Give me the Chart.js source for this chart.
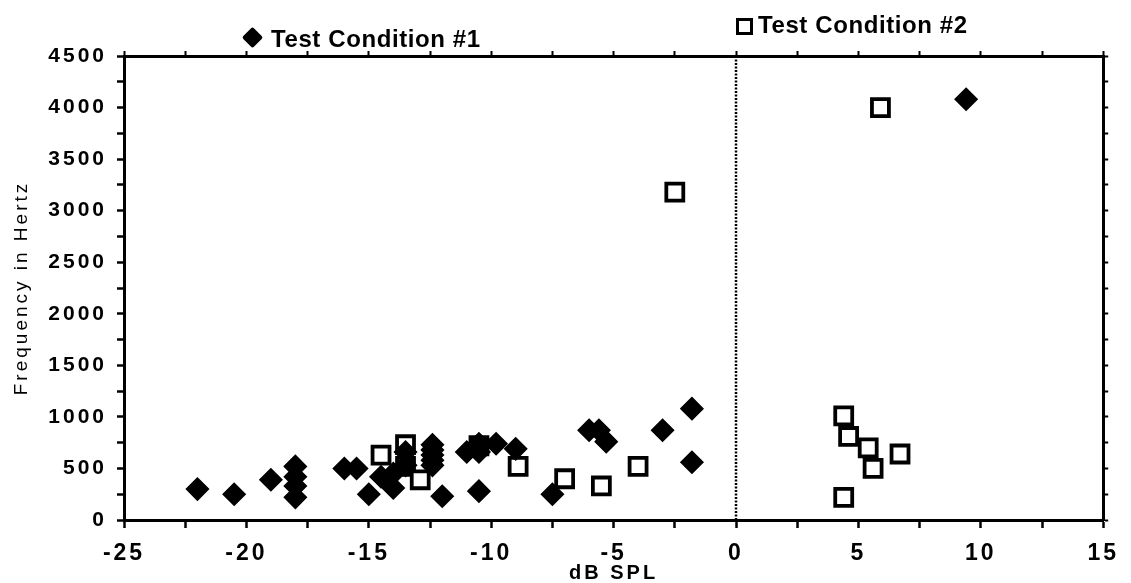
<!DOCTYPE html>
<html>
<head>
<meta charset="utf-8">
<script src="https://cdn.jsdelivr.net/npm/chart.js@4.4.0/dist/chart.umd.min.js"></script>
<style>
html,body{margin:0;padding:0;background:#fff;}
#wrap{position:relative;width:1131px;height:583px;overflow:hidden;background:#fff;}
#c{position:absolute;left:0;top:0;}
.leg{position:absolute;font-family:"Liberation Sans",Arial,sans-serif;font-weight:bold;font-size:24px;line-height:1;letter-spacing:0.6px;color:#000;white-space:nowrap;}
.dia{position:absolute;width:15px;height:15px;background:#000;transform:rotate(45deg);border-radius:2px;}
.sq{position:absolute;width:11px;height:11px;border:3.5px solid #000;background:#fff;}
</style>
</head>
<body>
<div id="wrap">
  <canvas id="c" width="1131" height="583"></canvas>
  <div class="dia" style="left:245px;top:30px;"></div>
  <div class="leg" style="left:271px;top:27px;">Test Condition #1</div>
  <div class="sq" style="left:736px;top:18px;"></div>
  <div class="leg" style="left:758px;top:13px;">Test Condition #2</div>
</div>
<script>
// ---- data (dB SPL, frequency in Hz) ----
const seriesNames = ['Test Condition #1', 'Test Condition #2'];
const cond1X = [-22, -20.5, -19, -18, -18, -18, -18, -16, -15.5, -15, -14.5, -14, -14, -13.5, -13.5,
                -12.4, -12.4, -12.4, -12.4, -12.4, -12, -11, -10.5, -10.5, -9.8, -10.5, -9, -7.5,
                -6, -5.6, -5.3, -3, -1.8, -1.8, 9.4];
const cond1Y = [300, 250, 390, 520, 420, 330, 220, 500, 500, 250, 420, 450, 310, 660, 530,
                730, 680, 630, 580, 530, 230, 660, 740, 660, 740, 280, 690, 250,
                870, 870, 760, 870, 1080, 560, 4080];
const cond2X = [-14.5, -13.5, -13.5, -12.9, -10.5, -8.9, -7, -5.5, -4, -2.5,
                4.4, 4.6, 5.4, 6.7, 5.6, 4.4, 5.9];
const cond2Y = [630, 730, 520, 390, 720, 520, 400, 330, 520, 3180,
                1010, 810, 700, 640, 500, 220, 4000];
const xMin = -25, xMax = 15, xStep = 2.5, xLabelEvery = 5;
const yMin = 0, yMax = 4500, yStep = 250, yLabelEvery = 500;
const xTitle = 'dB SPL';
const yTitle = 'Frequency in Hertz';

const FAM = '"Liberation Sans", Arial, sans-serif';
const toPts = (xs, ys) => xs.map((x, i) => ({x: x, y: ys[i]}));

const spacing = {
  id: 'spacing',
  beforeUpdate(c) { c.ctx.letterSpacing = '3px'; },
  beforeLayout(c) { c.ctx.letterSpacing = '3px'; },
  beforeDraw(c) { c.ctx.letterSpacing = '3px'; }
};
const zeroLine = {
  id: 'zeroLine',
  beforeDatasetsDraw(c) {
    const ctx = c.ctx, a = c.chartArea, px = c.scales.x.getPixelForValue(0);
    ctx.save();
    ctx.strokeStyle = '#000';
    ctx.lineWidth = 2.5;
    ctx.setLineDash([2, 1.5]);
    ctx.beginPath();
    ctx.moveTo(px, a.top);
    ctx.lineTo(px, a.bottom);
    ctx.stroke();
    ctx.restore();
  }
};

const lbl = (every) => (v) => (Math.abs(v % every) < 1e-9 ? String(v) : '');

new Chart(document.getElementById('c'), {
  type: 'scatter',
  data: {
    datasets: [
      {label: seriesNames[0], data: toPts(cond1X, cond1Y), pointStyle: 'rectRot', pointRadius: 11,
       pointHoverRadius: 11, backgroundColor: '#000', borderColor: '#000', borderWidth: 1.5},
      {label: seriesNames[1], data: toPts(cond2X, cond2Y), pointStyle: 'rect', pointRadius: 12,
       pointHoverRadius: 12, backgroundColor: '#fff', borderColor: '#000', borderWidth: 3.8}
    ]
  },
  options: {
    responsive: false,
    animation: false,
    devicePixelRatio: 1,
    layout: {padding: {top: 48, right: 9, bottom: 0, left: 0}},
    plugins: {legend: {display: false}, tooltip: {enabled: false}},
    scales: {
      x: {
        type: 'linear', position: 'bottom', min: xMin, max: xMax,
        afterFit(s) { s.height = 63; },
        ticks: {stepSize: xStep, autoSkip: false, maxRotation: 0, minRotation: 0, padding: 12,
                color: '#000', font: {family: FAM, size: 23, weight: 'bold'}, callback: lbl(xLabelEvery)},
        grid: {drawOnChartArea: false, drawTicks: true, tickLength: 8, tickWidth: 2.5, tickColor: '#000', color: '#000'},
        border: {display: true, color: '#000', width: 3},
        title: {display: true, text: xTitle, color: '#000',
                font: {family: FAM, size: 20, weight: 'bold', lineHeight: 1}, padding: {top: 0, bottom: 0}}
      },
      y: {
        type: 'linear', position: 'left', min: yMin, max: yMax,
        afterFit(s) { s.width = 124; },
        ticks: {stepSize: yStep, autoSkip: false, padding: 10, color: '#000',
                font: {family: FAM, size: 21, weight: 'bold'}, callback: lbl(yLabelEvery)},
        grid: {drawOnChartArea: false, drawTicks: true, tickLength: 7, tickWidth: 2.5, tickColor: '#000', color: '#000'},
        border: {display: true, color: '#000', width: 3},
        title: {display: true, text: yTitle, color: '#000',
                font: {family: FAM, size: 19, weight: 'normal', lineHeight: 1.2}, padding: {top: 10, bottom: 0}}
      },
      x2: {
        type: 'linear', position: 'top', min: xMin, max: xMax,
        afterFit(s) { s.height = 8; },
        ticks: {display: false, stepSize: xStep, autoSkip: false},
        grid: {drawOnChartArea: false, drawTicks: true, tickLength: 5, tickWidth: 2, tickColor: '#000', color: '#000'},
        border: {display: true, color: '#000', width: 3}
      },
      y2: {
        type: 'linear', position: 'right', min: yMin, max: yMax,
        afterFit(s) { s.width = 8; },
        ticks: {display: false, stepSize: yStep, autoSkip: false},
        grid: {drawOnChartArea: false, drawTicks: true, tickLength: 5, tickWidth: 2, tickColor: '#000', color: '#000'},
        border: {display: true, color: '#000', width: 3}
      }
    }
  },
  plugins: [spacing, zeroLine]
});
</script>
</body>
</html>
